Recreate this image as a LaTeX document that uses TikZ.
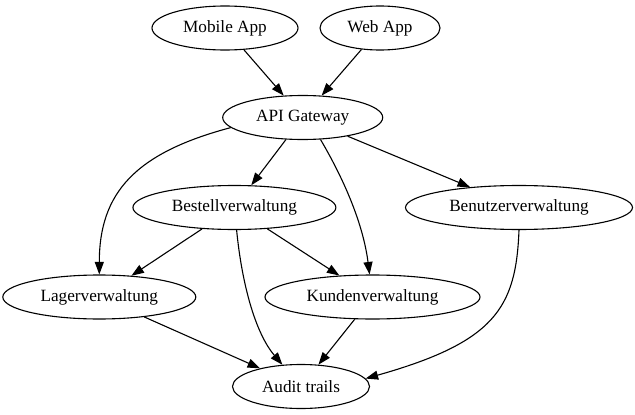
\documentclass[tikz,border=0pt]{standalone}
\usepackage{fontspec}
\setmainfont{Liberation Serif}
\usetikzlibrary{arrows.meta,shapes.geometric}
\begin{document}
\begin{tikzpicture}[x=1pt,y=-1pt,
  box/.style={draw, ellipse, line width=1.1pt, inner sep=0pt, minimum height=44pt,
    font=\fontsize{17.2}{20}\selectfont},
  edge/.style={-{Triangle[length=12.5pt,width=9pt]}, line width=1.1pt}]
\useasboundingbox (0,0) rectangle (635,415);
\node[box, minimum width=146pt] (mob) at (225,28) {Mobile App};
\node[box, minimum width=120pt] (web) at (380,28) {Web App};
\node[box, minimum width=160pt] (api) at (302.7,117.5) {API Gateway};
\node[box, minimum width=203pt] (best) at (234.4,207.5) {Bestellverwaltung};
\node[box, minimum width=227pt] (benu) at (519,207.5) {Benutzerverwaltung};
\node[box, minimum width=193pt] (lager) at (99.3,297) {Lagerverwaltung};
\node[box, minimum width=215pt] (kunden) at (372.5,297) {Kundenverwaltung};
\node[box, minimum width=137pt] (audit) at (301,386.5) {Audit trails};

\draw[edge] (mob) -- (api);
\draw[edge] (web) -- (api);
\draw[edge] (api.188) .. controls (135,153) and (99.3,193) .. (lager);
\draw[edge] (api) -- (best);
\draw[edge] (api.-51) .. controls (345.5,182) and (363.3,225.4) .. (kunden);
\draw[edge] (api) -- (benu);
\draw[edge] (best) -- (lager);
\draw[edge] (best) -- (kunden);
\draw[edge] (best) .. controls (242,285) and (255.6,333.4) .. (audit);
\draw[edge] (lager) -- (audit);
\draw[edge] (kunden) -- (audit);
\draw[edge] (benu.south) .. controls (516,308) and (495,342) .. (audit.7);
\end{tikzpicture}
\end{document}
